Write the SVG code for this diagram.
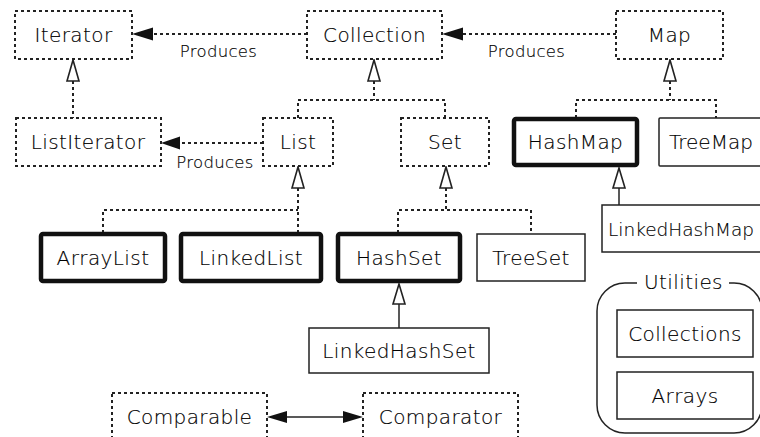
<svg xmlns="http://www.w3.org/2000/svg" width="760" height="437" viewBox="0 0 760 437">
<style>
text{font-family:"DejaVu Sans",Verdana,sans-serif;fill:#000;stroke:#000;stroke-width:0.15px;font-weight:200;}
.lbl{font-size:20px;letter-spacing:0.4px;text-anchor:middle;}
.st{text-anchor:start;}
.prod{font-size:16.5px;letter-spacing:0.3px;text-anchor:middle;}
.iface{fill:#fff;stroke:#222;stroke-width:2;stroke-dasharray:3 3;}
.bold{fill:#fff;stroke:#111;stroke-width:4.5;}
.plain{fill:#fff;stroke:#222;stroke-width:1.5;}
.dot{fill:none;stroke:#222;stroke-width:2;stroke-dasharray:3 3;}
.sol{fill:none;stroke:#222;stroke-width:1.5;}
.hollow{fill:#fff;stroke:#222;stroke-width:1.6;}
.head{fill:#111;stroke:none;}
</style>
<rect width="760" height="437" fill="#fff"/>

<g id="connectors">
  <line class="dot" x1="307" y1="34" x2="152" y2="34"/>
  <polygon class="head" points="132,34 153,27.5 153,40.5"/>
  <line class="dot" x1="616" y1="34" x2="462" y2="34"/>
  <polygon class="head" points="442,34 463,27.5 463,40.5"/>
  <line class="dot" x1="263" y1="143" x2="178" y2="143"/>
  <polygon class="head" points="161,143 180,136.5 180,149.5"/>
  <line class="dot" x1="73" y1="81" x2="73" y2="118"/>
  <polygon class="hollow" points="73,60 67,81 79,81"/>
  <polyline class="dot" points="374,81 374,100"/>
  <polyline class="dot" points="298,118 298,100 445,100 445,118"/>
  <polygon class="hollow" points="374,60 368,81 380,81"/>
  <polyline class="dot" points="670,81 670,100"/>
  <polyline class="dot" points="576,118 576,100 716,100 716,118"/>
  <polygon class="hollow" points="670,60 664,81 676,81"/>
  <polyline class="dot" points="298,188 298,233"/>
  <polyline class="dot" points="103,233 103,210 298,210"/>
  <polygon class="hollow" points="298,167 292,188 304,188"/>
  <polyline class="dot" points="446,188 446,210"/>
  <polyline class="dot" points="398,233 398,210 531,210 531,234"/>
  <polygon class="hollow" points="446,167 440,188 452,188"/>
  <line class="sol" x1="619" y1="188" x2="619" y2="205"/>
  <polygon class="hollow" points="619,168 613,188 625,188"/>
  <line class="sol" x1="399" y1="304" x2="399" y2="328"/>
  <polygon class="hollow" points="399,284 393,304 405,304"/>
  <line class="sol" x1="285" y1="417" x2="345" y2="417"/>
  <polygon class="head" points="267,417 287,411 287,423"/>
  <polygon class="head" points="363,417 343,411 343,423"/>
</g>

<g id="Iterator"><rect class="iface" x="15" y="11" width="117" height="48"/><text class="lbl" x="73.5" y="42">Iterator</text></g>
<g id="Collection"><rect class="iface" x="307" y="11" width="135" height="48"/><text class="lbl" x="374.5" y="42">Collection</text></g>
<g id="Map"><rect class="iface" x="616" y="11" width="107" height="48"/><text class="lbl" x="669.5" y="42">Map</text></g>
<g id="label-produces-1"><text class="prod" x="218.5" y="57">Produces</text></g>
<g id="label-produces-2"><text class="prod" x="526.5" y="57">Produces</text></g>
<g id="label-produces-3"><text class="prod" x="215" y="168">Produces</text></g>

<g id="ListIterator"><rect class="iface" x="16" y="118" width="145" height="48"/><text class="lbl" x="88" y="149">ListIterator</text></g>
<g id="List"><rect class="iface" x="263" y="118" width="70" height="48"/><text class="lbl" x="298" y="149">List</text></g>
<g id="Set"><rect class="iface" x="401" y="118" width="88" height="48"/><text class="lbl" x="445" y="149">Set</text></g>
<g id="HashMap"><rect class="bold" x="514" y="119" width="123" height="46" rx="2"/><text class="lbl" x="575.5" y="149">HashMap</text></g>
<g id="TreeMap"><rect class="plain" x="659" y="118" width="110" height="48" rx="1"/><text class="lbl st" x="669" y="149" style="letter-spacing:0">TreeMap</text></g>
<g id="LinkedHashMap"><rect class="plain" x="602" y="205" width="170" height="47"/><text class="lbl st" x="608" y="236" style="font-size:18.5px;letter-spacing:0">LinkedHashMap</text></g>

<g id="ArrayList"><rect class="bold" x="41" y="234" width="124" height="47" rx="2"/><text class="lbl" x="103" y="265">ArrayList</text></g>
<g id="LinkedList"><rect class="bold" x="181" y="234" width="140" height="47" rx="2"/><text class="lbl" x="251" y="265">LinkedList</text></g>
<g id="HashSet"><rect class="bold" x="338" y="234" width="122" height="47" rx="2"/><text class="lbl" x="399" y="265">HashSet</text></g>
<g id="TreeSet"><rect class="plain" x="477" y="234" width="108" height="47"/><text class="lbl" x="531" y="265">TreeSet</text></g>
<g id="LinkedHashSet"><rect class="plain" x="309" y="328" width="180" height="45"/><text class="lbl" x="399" y="358">LinkedHashSet</text></g>

<g id="Utilities">
  <rect class="sol" x="597" y="283" width="165" height="150" rx="28"/>
  <rect x="637" y="274" width="92" height="18" fill="#fff"/>
  <text class="lbl" x="683.5" y="289">Utilities</text>
</g>
<g id="Collections"><rect class="plain" x="617" y="310" width="136" height="47"/><text class="lbl" x="685" y="341">Collections</text></g>
<g id="Arrays"><rect class="plain" x="617" y="372" width="136" height="47"/><text class="lbl" x="685" y="403">Arrays</text></g>

<g id="Comparable"><rect class="iface" x="112" y="393" width="155" height="60"/><text class="lbl" x="189.5" y="424">Comparable</text></g>
<g id="Comparator"><rect class="iface" x="363" y="393" width="155" height="60"/><text class="lbl" x="440.5" y="424">Comparator</text></g>
</svg>
